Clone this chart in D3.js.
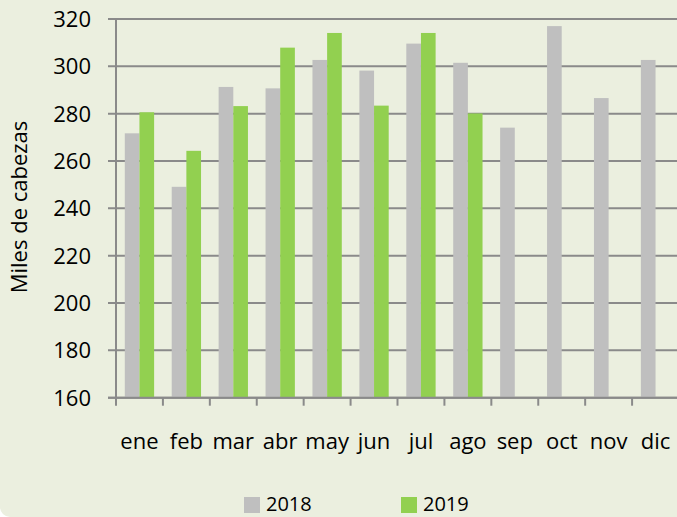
<!DOCTYPE html>
<html lang="es">
<head>
    <title>Miles de cabezas 2018-2019</title>
    <script src="https://d3js.org/d3.v7.min.js"></script>
    <style>
        body { margin: 0; background: #ffffff; }
        text { font-family: "Open Sans", "Noto Sans", sans-serif; fill: #000; }
    </style>
</head>
<body>
<script>
    // data
    const months = ["ene", "feb", "mar", "abr", "may", "jun", "jul", "ago", "sep", "oct", "nov", "dic"];
    const years  = ["2018", "2019"];
    const v2018  = [271.7, 249.1, 291.3, 290.7, 302.7, 298.2, 309.6, 301.5, 274.1, 317.0, 286.6, 302.7];
    const v2019  = [280.6, 264.3, 283.2, 307.9, 314.1, 283.4, 314.1, 280.1, null, null, null, null];
    const yTicks = [160, 180, 200, 220, 240, 260, 280, 300, 320];
    const colors = { "2018": "#bfbfbf", "2019": "#92d050" };

    // dimensions
    const W = 677, H = 517;
    const plotLeft = 116, plotRight = 679, plotTop = 19, plotBottom = 397.7;

    const svg = d3.select("body").append("svg")
        .attr("width", W)
        .attr("height", H);

    // chart area background (rounded corner shows at bottom left)
    svg.append("rect")
        .attr("x", 0).attr("y", -30)
        .attr("width", W + 30).attr("height", H + 30)
        .attr("rx", 10)
        .attr("fill", "#ebefdf");

    const x0 = d3.scaleBand().domain(months).range([plotLeft, plotRight]).paddingInner(0);
    const x1 = d3.scaleBand().domain(years).range([0, x0.bandwidth()]).paddingOuter(0.6);
    const y  = d3.scaleLinear().domain([160, 320]).range([plotBottom, plotTop]);

    const gridColor = "#8a8a8a";

    // gridlines
    svg.append("g")
        .selectAll("line")
        .data(yTicks)
        .enter()
        .append("line")
        .attr("x1", plotLeft - 8)
        .attr("x2", plotRight)
        .attr("y1", d => y(d))
        .attr("y2", d => y(d))
        .attr("stroke", gridColor)
        .attr("stroke-width", 2);

    // y tick labels
    svg.append("g")
        .selectAll("text")
        .data(yTicks)
        .enter()
        .append("text")
        .attr("x", plotLeft - 25)
        .attr("y", d => y(d))
        .attr("dy", "0.36em")
        .attr("text-anchor", "end")
        .style("font-size", "22px")
        .text(d => d);

    // bars
    const rows = months.map((m, i) => ({ month: m, "2018": v2018[i], "2019": v2019[i] }));
    svg.append("g")
        .selectAll("g")
        .data(rows)
        .enter()
        .append("g")
        .attr("transform", d => `translate(${x0(d.month)},0)`)
        .selectAll("rect")
        .data(d => years.filter(k => d[k] != null).map(k => ({ key: k, value: d[k] })))
        .enter()
        .append("rect")
        .attr("x", d => x1(d.key))
        .attr("width", x1.bandwidth())
        .attr("y", d => y(d.value))
        .attr("height", d => y(160) - y(d.value))
        .attr("fill", d => colors[d.key]);

    // axes lines
    svg.append("line")
        .attr("x1", plotLeft).attr("x2", plotLeft)
        .attr("y1", plotTop).attr("y2", plotBottom)
        .attr("stroke", gridColor).attr("stroke-width", 2);
    svg.append("line")
        .attr("x1", plotLeft - 8).attr("x2", plotRight)
        .attr("y1", plotBottom).attr("y2", plotBottom)
        .attr("stroke", gridColor).attr("stroke-width", 2);

    // x ticks at category boundaries
    svg.append("g")
        .selectAll("line")
        .data(months)
        .enter()
        .append("line")
        .attr("x1", d => x0(d)).attr("x2", d => x0(d))
        .attr("y1", plotBottom).attr("y2", plotBottom + 8)
        .attr("stroke", gridColor).attr("stroke-width", 2);

    // category labels
    svg.append("g")
        .selectAll("text")
        .data(months)
        .enter()
        .append("text")
        .attr("x", d => x0(d) + x0.bandwidth() / 2)
        .attr("y", 449)
        .attr("text-anchor", "middle")
        .style("font-size", "22px")
        .text(d => d);

    // y axis title
    svg.append("text")
        .attr("transform", "translate(27,207) rotate(-90)")
        .attr("text-anchor", "middle")
        .style("font-size", "22px")
        .text("Miles de cabezas");

    // legend
    const legendX = { "2018": 244, "2019": 401 };
    const legend = svg.append("g")
        .selectAll("g")
        .data(years)
        .enter()
        .append("g")
        .attr("transform", d => `translate(${legendX[d]},497)`);
    legend.append("rect")
        .attr("width", 16).attr("height", 16)
        .attr("fill", d => colors[d]);
    legend.append("text")
        .attr("x", 22).attr("y", 14)
        .style("font-size", "20px")
        .text(d => d);
</script>
</body>
</html>
